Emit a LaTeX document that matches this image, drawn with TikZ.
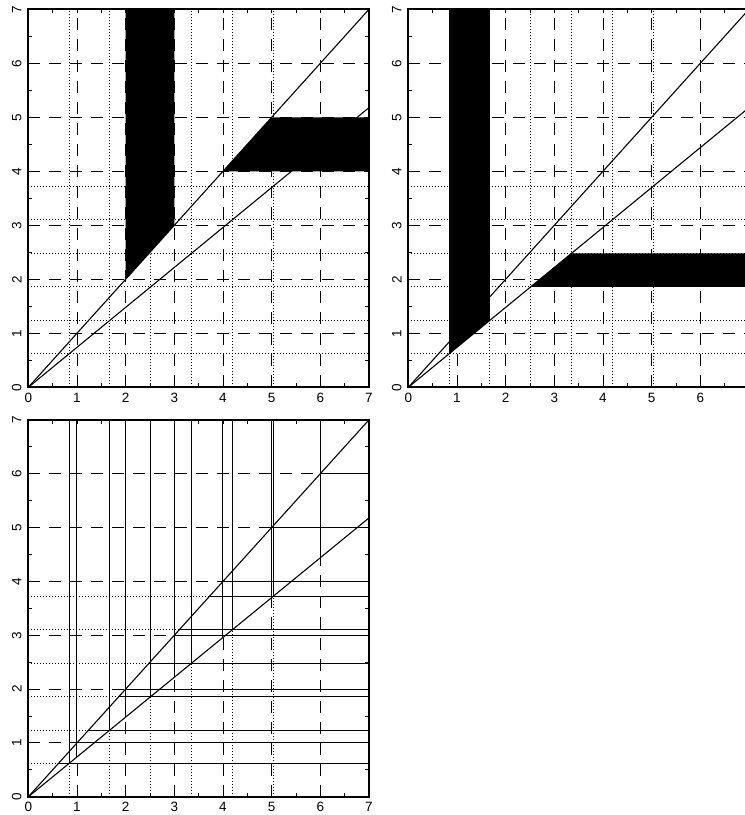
\documentclass[tikz,border=0pt]{standalone}
\usepackage{fontspec}
\setmainfont{Liberation Sans}
\def\A{0.838}
\def\B{0.62}
\def\S{0.73986}
\tikzset{
  gdash/.style={line width=0.9pt, dash pattern=on 12pt off 9pt},
  gdot/.style={line width=0.8pt, dash pattern=on 1pt off 2pt},
  sol/.style={line width=1pt},
  diag/.style={line width=1.1pt},
  frame/.style={line width=2pt, line join=miter},
  tickmark/.style={line width=0.9pt},
  lab/.style={font=\fontsize{13.5}{13.5}\selectfont, inner sep=0pt},
}
\newcommand\plotaxes[1]{%
  \foreach \t in {0,0.5,...,7} {
    \draw[tickmark] (\t,0) -- ++(0pt,4pt);
    \draw[tickmark] (\t,7) -- ++(0pt,-4pt);
    \draw[tickmark] (0,\t) -- ++(4pt,0pt);
    \draw[tickmark] (7,\t) -- ++(-4pt,0pt);
  }
  \draw[frame] (0,0) rectangle (7,7);
  \foreach \i in {0,...,7} {
    \node[lab] (#1x\i) at ([yshift=-10.3pt]\i,0) {\i};
    \node[lab,rotate=90] (#1y\i) at ([xshift=-11.5pt]0,\i) {\i};
  }
}
\newcommand\fullgrid{%
  \foreach \n in {1,...,6} {
    \draw[gdash] (0,\n) -- (7,\n);
    \draw[gdash] (\n,0) -- (\n,7);
  }
  \foreach \k in {1,...,6} {
    \pgfmathsetmacro\xa{\k*\A}
    \pgfmathsetmacro\yb{\k*\B}
    \draw[gdot] (0,\yb) -- (7,\yb);
    \draw[gdot] (\xa,0) -- (\xa,7);
  }
}
\newcommand\diagonals{%
  \draw[diag] (0,0) -- (7,7);
  \draw[diag] (0,0) -- (7,{7*\S});
}
\begin{document}
\begin{tikzpicture}[x=1pt,y=1pt]
\useasboundingbox (0,0) rectangle (745,815);
% top left
\begin{scope}[shift={(28.3pt,427.7pt)}, x=48.67pt, y=54pt]
  \fullgrid
  \fill (2,2) -- (3,3) -- (3,7) -- (2,7) -- cycle;
  \fill (4,4) -- (5,5) -- (7,5) -- (7,4) -- cycle;
  \diagonals
  \plotaxes{tl}
\end{scope}
% top right
\begin{scope}[shift={(408.3pt,427.7pt)}, x=48.67pt, y=54pt]
  \fullgrid
  \fill (\A,\B) -- ({2*\A},{2*\B}) -- ({2*\A},7) -- (\A,7) -- cycle;
  \fill ({3*\A},{3*\B}) -- ({4*\A},{4*\B}) -- (7,{4*\B}) -- (7,{3*\B}) -- cycle;
  \diagonals
  \plotaxes{tr}
\end{scope}
% bottom
\begin{scope}[shift={(28.3pt,18.2pt)}, x=48.67pt, y=53.85pt]
  \foreach \n in {1,...,6} {
    \draw[gdash] (0,\n) -- (\n,\n);
    \draw[sol] (\n,\n) -- (7,\n);
    \draw[gdash] (\n,0) -- (\n,{\n*\S});
    \draw[sol] (\n,{\n*\S}) -- (\n,7);
  }
  \foreach \k in {1,...,6} {
    \pgfmathsetmacro\xa{\k*\A}
    \pgfmathsetmacro\yb{\k*\B}
    \draw[gdot] (0,\yb) -- (\yb,\yb);
    \draw[sol] (\yb,\yb) -- (7,\yb);
    \draw[gdot] (\xa,0) -- (\xa,\yb);
    \draw[sol] (\xa,\yb) -- (\xa,7);
  }
  \diagonals
  \plotaxes{bl}
\end{scope}
\end{tikzpicture}
\end{document}
